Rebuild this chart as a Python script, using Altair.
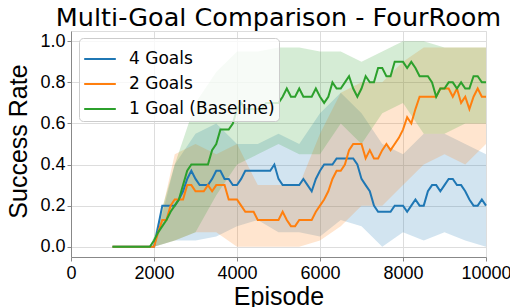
import altair as alt
import pandas as pd

# ---- data ----
EPISODES = list(range(1000, 10001, 100))

GOALS4 = [0]*10 + [
    0, 0.1, 0.2, 0.2, 0.2, 0.2, 0.23, 0.27, 0.33, 0.37,
    0.33, 0.3, 0.3, 0.3, 0.33, 0.37, 0.37, 0.33, 0.33, 0.3,
    0.3, 0.33, 0.37, 0.37, 0.37, 0.37, 0.37, 0.37, 0.37, 0.4,
    0.33, 0.3, 0.3, 0.3, 0.3, 0.3, 0.33, 0.3, 0.27, 0.33,
    0.37, 0.4, 0.4, 0.4, 0.43, 0.43, 0.43, 0.43, 0.43, 0.4,
    0.33, 0.3, 0.27, 0.2, 0.17, 0.17, 0.17, 0.17, 0.2, 0.2,
    0.2, 0.17, 0.2, 0.23, 0.2, 0.2, 0.27, 0.3, 0.3, 0.27,
    0.3, 0.33, 0.33, 0.3, 0.3, 0.27, 0.23, 0.2, 0.2, 0.23, 0.2]

GOALS2 = [0]*10 + [
    0, 0.07, 0.13, 0.13, 0.2, 0.23, 0.23, 0.23, 0.3, 0.3,
    0.27, 0.27, 0.27, 0.3, 0.27, 0.3, 0.3, 0.3, 0.23, 0.23,
    0.23, 0.2, 0.17, 0.17, 0.17, 0.13, 0.13, 0.13, 0.13, 0.13,
    0.13, 0.17, 0.13, 0.1, 0.1, 0.13, 0.13, 0.13, 0.13, 0.17,
    0.2, 0.23, 0.27, 0.33, 0.37, 0.37, 0.4, 0.47, 0.5, 0.5,
    0.5, 0.43, 0.47, 0.43, 0.43, 0.47, 0.5, 0.47, 0.5, 0.53,
    0.57, 0.63, 0.6, 0.67, 0.73, 0.73, 0.73, 0.73, 0.73, 0.77,
    0.77, 0.77, 0.73, 0.77, 0.7, 0.73, 0.67, 0.73, 0.77, 0.73, 0.73]

GOAL1 = [0]*10 + [
    0.03, 0.07, 0.1, 0.13, 0.17, 0.2, 0.23, 0.3, 0.37, 0.4,
    0.4, 0.4, 0.4, 0.4, 0.47, 0.5, 0.57, 0.57, 0.57, 0.6,
    0.67, 0.7, 0.67, 0.67, 0.67, 0.67, 0.67, 0.7, 0.7, 0.7,
    0.7, 0.73, 0.77, 0.73, 0.73, 0.77, 0.73, 0.73, 0.73, 0.77,
    0.73, 0.7, 0.73, 0.8, 0.77, 0.77, 0.8, 0.83, 0.77, 0.73,
    0.77, 0.83, 0.8, 0.8, 0.87, 0.87, 0.83, 0.83, 0.9, 0.9,
    0.9, 0.87, 0.9, 0.87, 0.83, 0.83, 0.83, 0.8, 0.73, 0.77,
    0.77, 0.8, 0.8, 0.77, 0.8, 0.77, 0.77, 0.83, 0.83, 0.8, 0.8]

BAND_EP = [1000, 1500, 1900, 2000, 2500, 3000, 3500, 4000, 4500, 5000,
           5500, 6000, 6500, 7000, 7500, 8000, 8500, 9000, 9500, 10000]
GOALS4_LO = [0, 0, 0, 0, 0.03, 0.03, 0.05, 0.1, 0.13, 0.07,
             0.07, 0.05, 0.13, 0.1, 0.0, 0.07, 0.03, 0.07, 0.03, 0.0]
GOALS4_HI = [0, 0, 0, 0, 0.4, 0.55, 0.6, 0.5, 0.5, 0.55,
             0.5, 0.65, 0.75, 0.65, 0.5, 0.45, 0.55, 0.55, 0.5, 0.45]
GOALS2_LO = [0, 0, 0, 0, 0.03, 0.07, 0.07, 0.0, 0.0, 0.0,
             0.0, 0.03, 0.1, 0.2, 0.2, 0.3, 0.4, 0.45, 0.4, 0.5]
GOALS2_HI = [0, 0, 0, 0, 0.45, 0.5, 0.45, 0.5, 0.3, 0.3,
             0.3, 0.55, 0.75, 0.8, 0.8, 0.9, 0.97, 0.97, 0.97, 0.97]
GOAL1_LO = [0, 0, 0, 0, 0.03, 0.07, 0.25, 0.4, 0.45, 0.5,
            0.45, 0.45, 0.6, 0.5, 0.65, 0.7, 0.55, 0.55, 0.6, 0.6]
GOAL1_HI = [0, 0, 0, 0.05, 0.4, 0.7, 0.85, 0.95, 0.95, 0.97,
            0.97, 0.95, 0.95, 0.9, 0.95, 1.0, 1.0, 0.97, 0.97, 0.97]

SERIES = ["4 Goals", "2 Goals", "1 Goal (Baseline)"]
COLORS = ["#1f77b4", "#ff7f0e", "#2ca02c"]

FONT = "DejaVu Sans"

lines_df = pd.concat([
    pd.DataFrame({"Episode": EPISODES, "value": vals, "series": name, "order": i})
    for i, (name, vals) in enumerate(zip(SERIES, [GOALS4, GOALS2, GOAL1]))
])
bands_df = pd.concat([
    pd.DataFrame({"Episode": BAND_EP, "lo": lo, "hi": hi, "series": name, "order": i})
    for i, (name, lo, hi) in enumerate(zip(SERIES,
                                           [GOALS4_LO, GOALS2_LO, GOAL1_LO],
                                           [GOALS4_HI, GOALS2_HI, GOAL1_HI]))
])

xscale = alt.Scale(domain=[0, 10000], nice=False)
yscale = alt.Scale(domain=[-0.05, 1.05], nice=False, zero=False)
cscale = alt.Scale(domain=SERIES, range=COLORS)

legend = alt.Legend(title=None, orient="none", legendX=8, legendY=7,
                    symbolType="stroke", symbolSize=1000,
                    symbolStrokeWidth=2, symbolOpacity=1, labelFontSize=17,
                    labelFont=FONT, labelColor="black", rowPadding=-7,
                    fillColor="rgba(255,255,255,0.8)",
                    strokeColor="#cccccc", cornerRadius=4,
                    padding=4, labelOffset=12)

xaxis = alt.Axis(values=[0, 2000, 4000, 6000, 8000, 10000], title="Episode",
                 titleFontSize=25, titleFontWeight="normal", titleBaseline="alphabetic",
                 titleY=47, labelFontSize=18, tickSize=4, labelPadding=3,
                 labelFlush=False, format="d")
yaxis = alt.Axis(values=[0, 0.2, 0.4, 0.6, 0.8, 1.0], title="Success Rate",
                 titleFontSize=25, titleFontWeight="normal", titleBaseline="alphabetic",
                 titleX=-45, titleY=110, titleAngle=-90, titleAlign="center",
                 labelFontSize=18, tickSize=4, labelPadding=2, format=".1f")

bands = alt.Chart(bands_df).mark_area(opacity=0.2, strokeWidth=0).encode(
    x=alt.X("Episode:Q", scale=xscale, axis=xaxis),
    y=alt.Y("lo:Q", scale=yscale, axis=yaxis),
    y2="hi:Q",
    color=alt.Color("series:N", scale=cscale, sort=SERIES, legend=legend),
    detail="series:N",
)

lines = alt.Chart(lines_df).mark_line(strokeWidth=2).encode(
    x=alt.X("Episode:Q", scale=xscale),
    y=alt.Y("value:Q", scale=yscale),
    color=alt.Color("series:N", scale=cscale, sort=SERIES, legend=legend),
    order="order:Q",
)

chart = alt.layer(bands, lines).properties(
    width=415, height=226,
    padding={"left": 63, "top": 23, "right": 24, "bottom": 50},
    autosize=alt.AutoSizeParams(type="none"),
    title=alt.TitleParams("Multi-Goal Comparison - FourRoom", fontSize=25.5,
                          font=FONT, fontWeight="normal", baseline="bottom",
                          offset=0, dy=25, anchor="middle", color="black"),
).configure_view(stroke="black", strokeWidth=1).configure_axis(
    labelFont=FONT, titleFont=FONT, labelColor="black", titleColor="black",
    domainColor="black", tickColor="black", gridColor="#e6e6e6", gridWidth=1,
).configure(background="white")

chart.save("out.html", embed_options={"renderer": "svg", "actions": False})
